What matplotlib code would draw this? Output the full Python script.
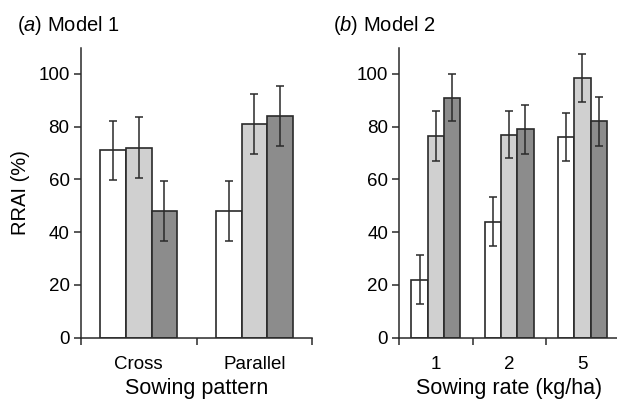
import numpy as np
import matplotlib.pyplot as plt

plt.rcParams['font.family'] = ['Liberation Sans', 'DejaVu Sans']
plt.rcParams['mathtext.fontset'] = 'custom'
plt.rcParams['mathtext.rm'] = 'Liberation Sans'
plt.rcParams['mathtext.it'] = 'Liberation Sans:italic'

# panel (a): sowing pattern
patterns = ["Cross", "Parallel"]
a_vals = [[71, 48], [72, 81], [48, 84]]
a_errs = [[11.3, 11.5], [11.5, 11.5], [11.5, 11.5]]

# panel (b): sowing rate
rates = ["1", "2", "5"]
b_vals = [[22, 44, 76], [76.5, 77, 98.5], [91, 79, 82]]
b_errs = [[9.4, 9.4, 9.2], [9.4, 9.0, 9.2], [9.0, 9.2, 9.2]]

colors = ["white", "#d0d0d0", "#8c8c8c"]
edge = "#2a2a2a"
bw = 0.223


def draw(ax, cats, vals, errs, xlabel, title, tx):
    x = np.arange(len(cats)) + 0.5
    for i in range(3):
        ax.bar(x + (i - 1) * bw, vals[i], bw, color=colors[i], edgecolor=edge,
               linewidth=1.2, yerr=errs[i],
               error_kw=dict(ecolor=edge, elinewidth=1.1, capsize=3.2, capthick=1.1))
    ax.set_xlim(0, len(cats))
    ax.set_ylim(0, 110)
    ax.set_yticks([0, 20, 40, 60, 80, 100])
    ax.set_xticks(np.arange(len(cats) + 1))
    ax.set_xticklabels([])
    ax.set_xticks(x, minor=True)
    ax.set_xticklabels(cats, minor=True)
    ax.tick_params(axis='x', which='minor', length=0, labelsize=13.5, pad=13)
    ax.tick_params(axis='x', which='major', length=5, width=1.1, color=edge)
    ax.tick_params(axis='y', length=5, width=1.1, color=edge, labelsize=13.5, pad=3)
    for s in ["top", "right"]:
        ax.spines[s].set_visible(False)
    for s in ["left", "bottom"]:
        ax.spines[s].set_linewidth(1.1)
        ax.spines[s].set_color(edge)
    ax.set_xlabel(xlabel, fontsize=15.5, labelpad=4)
    ax.text(tx, 1.037, title, transform=ax.transAxes,
            fontsize=14.5, ha='left', va='bottom')


fig = plt.figure(figsize=(6.17, 4.0), dpi=100)
ax1 = fig.add_axes([0.1308, 0.156, 0.3754, 0.725])
ax2 = fig.add_axes([0.6472, 0.156, 0.356, 0.725])

draw(ax1, patterns, a_vals, a_errs, "Sowing pattern", r"($\it{a}$) Model 1", -0.275)
draw(ax2, rates, b_vals, b_errs, "Sowing rate (kg/ha)", r"($\it{b}$) Model 2", -0.302)
ax1.set_ylabel("RRAI (%)", fontsize=14.5, labelpad=6)

fig.savefig("out.png", dpi=100)
